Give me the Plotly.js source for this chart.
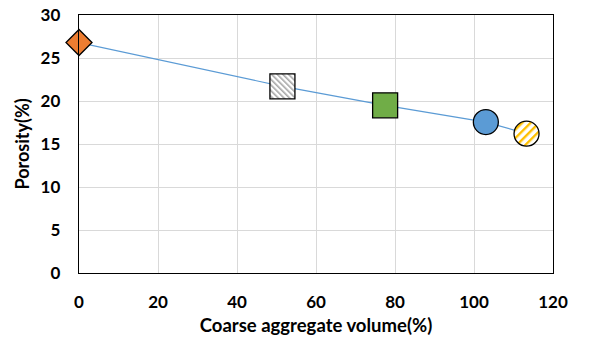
<!DOCTYPE html>
<html>
<head>
<meta charset="utf-8">
<script src="https://cdn.plot.ly/plotly-3.0.1.min.js"></script>
<style>html,body{margin:0;padding:0;background:#fff;}</style>
</head>
<body>
<div id="chart" style="width:598px;height:343px;"></div>
<script>
// Data
const xValues = [0, 51.5, 77.5, 103, 113.3];
const porosity = [26.8, 21.7, 19.5, 17.55, 16.2];
const xTicks = [0, 20, 40, 60, 80, 100, 120];
const yTicks = [0, 5, 10, 15, 20, 25, 30];

const markerSymbols = ['diamond', 'square', 'square', 'circle', 'circle'];
const markerColors = ['#ED7D31', '#ffffff', '#70AD47', '#5B9BD5', '#ffffff'];
const markerSizes = [20, 25, 25, 25, 25];
const hatchFor = [null, 'hatchGray', null, null, 'hatchYellow'];

const traces = [{
  x: xValues, y: porosity, mode: 'lines', type: 'scatter',
  line: {color: '#5B9BD5', width: 1.2}, hoverinfo: 'skip', showlegend: false
}];
for (let i = 0; i < xValues.length; i++) {
  traces.push({
    x: [xValues[i]], y: [porosity[i]], mode: 'markers', type: 'scatter',
    marker: {symbol: markerSymbols[i], color: markerColors[i], size: markerSizes[i],
             line: {color: '#000000', width: 1.3}},
    showlegend: false, cliponaxis: false
  });
}

const fontFam = 'Lato, "Open Sans", sans-serif';
const layout = {
  width: 598, height: 343,
  margin: {l: 79, r: 45, t: 15, b: 70},
  paper_bgcolor: '#ffffff', plot_bgcolor: '#ffffff',
  showlegend: false,
  xaxis: {
    range: [0, 120], tickvals: xTicks, ticktext: xTicks.map(String),
    showgrid: true, gridcolor: '#d9d9d9', gridwidth: 1,
    zeroline: false, showline: true, linecolor: '#000000', linewidth: 1.3, mirror: true,
    ticks: '', ticklabelstandoff: 13,
    tickfont: {family: fontFam, size: 17, color: '#000000', weight: 'bold'},
    title: {text: 'Coarse aggregate volume(%)', standoff: 8,
            font: {family: fontFam, size: 18.5, color: '#000000', weight: 'bold'}}
  },
  yaxis: {
    range: [0, 30], tickvals: yTicks, ticktext: yTicks.map(String),
    showgrid: true, gridcolor: '#d9d9d9', gridwidth: 1,
    zeroline: false, showline: true, linecolor: '#000000', linewidth: 1.3, mirror: true,
    ticks: '', ticklabelstandoff: 14,
    tickfont: {family: fontFam, size: 17, color: '#000000', weight: 'bold'},
    title: {text: 'Porosity(%)', standoff: 6,
            font: {family: fontFam, size: 18, color: '#000000', weight: 'bold'}}
  }
};

const gd = document.getElementById('chart');
Plotly.newPlot(gd, traces, layout, {displayModeBar: false, staticPlot: true}).then(function () {
  const svg = gd.querySelector('svg.main-svg');
  let defs = svg.querySelector('defs');
  const ns = 'http://www.w3.org/2000/svg';
  function makePattern(id, size, stripe, color, angle) {
    const p = document.createElementNS(ns, 'pattern');
    p.setAttribute('id', id);
    p.setAttribute('patternUnits', 'userSpaceOnUse');
    p.setAttribute('width', size);
    p.setAttribute('height', size);
    p.setAttribute('patternTransform', 'rotate(' + angle + ')');
    const bg = document.createElementNS(ns, 'rect');
    bg.setAttribute('width', size); bg.setAttribute('height', size); bg.setAttribute('fill', '#ffffff');
    const st = document.createElementNS(ns, 'rect');
    st.setAttribute('width', stripe); st.setAttribute('height', size); st.setAttribute('fill', color);
    p.appendChild(bg); p.appendChild(st);
    defs.appendChild(p);
  }
  makePattern('hatchGray', 4, 1.6, '#a6a6a6', -45);
  makePattern('hatchYellow', 6, 2.4, '#FFC000', 45);
  const traceGroups = gd.querySelectorAll('.scatterlayer .trace');
  hatchFor.forEach(function (pid, i) {
    if (!pid) return;
    const g = traceGroups[i + 1];
    if (!g) return;
    g.querySelectorAll('path.point').forEach(function (pt) {
      pt.style.fill = 'url(#' + pid + ')';
    });
  });
});
</script>
</body>
</html>
